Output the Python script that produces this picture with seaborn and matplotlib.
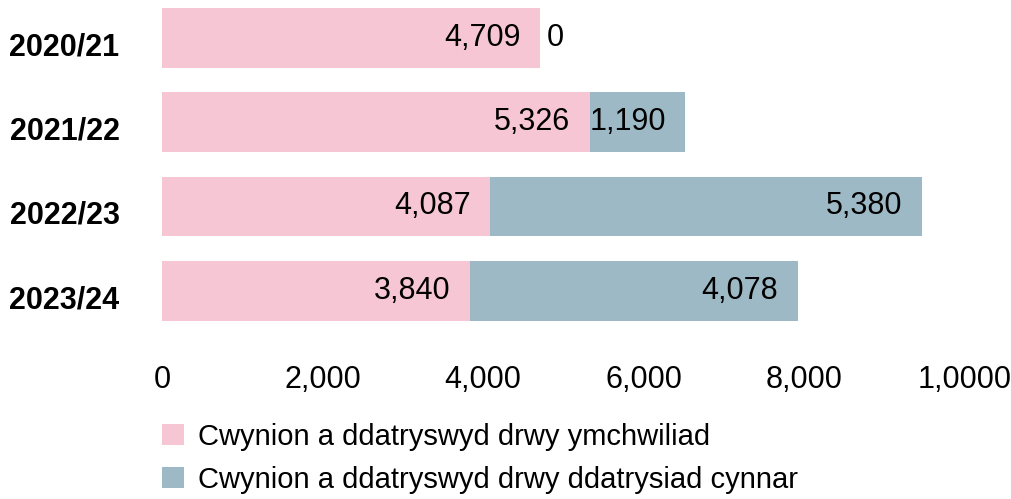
import matplotlib
matplotlib.use("Agg")
import matplotlib.pyplot as plt
import matplotlib.transforms as mtransforms
import seaborn as sns
import pandas as pd
from matplotlib.patches import Patch

years = ["2020/21", "2021/22", "2022/23", "2023/24"]
investigated = [4709, 5326, 4087, 3840]
early_resolution = [0, 1190, 5380, 4078]
x_ticks = [0, 2000, 4000, 6000, 8000, 10000]
x_tick_labels = ["0", "2,000", "4,000", "6,000", "8,000", "1,0000"]
legend_labels = ["Cwynion a ddatryswyd drwy ymchwiliad",
                 "Cwynion a ddatryswyd drwy ddatrysiad cynnar"]

pink = "#F6C6D4"
blue = "#9DB9C5"

df = pd.DataFrame({"year": years, "inv": investigated, "early": early_resolution})
df["total"] = df["inv"] + df["early"]

sns.set_theme(style="white")
plt.rcParams["font.family"] = ["Liberation Sans", "DejaVu Sans"]
plt.rcParams["text.color"] = "black"
plt.rcParams["xtick.color"] = "black"
plt.rcParams["ytick.color"] = "black"

fig = plt.figure(figsize=(10.12, 4.99), dpi=100)
ax = fig.add_axes([0.160, 0.333, 0.7935, 0.667])

# stacked look: totals first, first segment drawn on top
sns.barplot(data=df, x="total", y="year", orient="h", color=blue,
            saturation=1, width=0.71, linewidth=0, ax=ax)
sns.barplot(data=df, x="inv", y="year", orient="h", color=pink,
            saturation=1, width=0.71, linewidth=0, ax=ax)

n = len(years)
total_bars = ax.patches[:n]
pink_bars = ax.patches[n:]

fs = 22
for i in range(n):
    pb = pink_bars[i]
    tb = total_bars[i]
    yc = pb.get_y() + pb.get_height() / 2
    ax.annotate(f"{investigated[i]:,}", (pb.get_x() + pb.get_width(), yc),
                xytext=(-14, 0), textcoords="offset points",
                ha="right", va="center", fontsize=fs, color="black")
    if early_resolution[i] == 0:
        ax.annotate(f"{early_resolution[i]:,}", (tb.get_x() + tb.get_width(), yc),
                    xytext=(5, 0), textcoords="offset points",
                    ha="left", va="center", fontsize=fs, color="black")
    else:
        ax.annotate(f"{early_resolution[i]:,}", (tb.get_x() + tb.get_width(), yc),
                    xytext=(-14, 0), textcoords="offset points",
                    ha="right", va="center", fontsize=fs, color="black")

ax.set_xlim(0, 10000)
ax.set_ylim(3.5, -0.45)
ax.set_xticks(x_ticks)
ax.set_xticklabels(x_tick_labels, fontsize=fs)
ax.tick_params(axis="x", length=0, pad=23)
ax.tick_params(axis="y", length=0, pad=30.5)
# year labels sit a little below the bar centres in the original
shift = mtransforms.ScaledTranslation(0, -0.06, fig.dpi_scale_trans)
for lbl in ax.get_yticklabels():
    lbl.set_fontweight("bold")
    lbl.set_fontsize(22)
    lbl.set_transform(lbl.get_transform() + shift)
ax.set_xlabel("")
ax.set_ylabel("")
sns.despine(ax=ax, left=True, bottom=True)

handles = [Patch(facecolor=pink, edgecolor="none"),
           Patch(facecolor=blue, edgecolor="none")]
fig.legend(handles, legend_labels, loc="upper left",
           bbox_to_anchor=(0.160, 0.153), frameon=False, fontsize=21,
           handlelength=0.75, handleheight=0.75, handletextpad=0.5,
           labelspacing=0.52, borderpad=0, borderaxespad=0)

fig.savefig("out.png", dpi=100)
